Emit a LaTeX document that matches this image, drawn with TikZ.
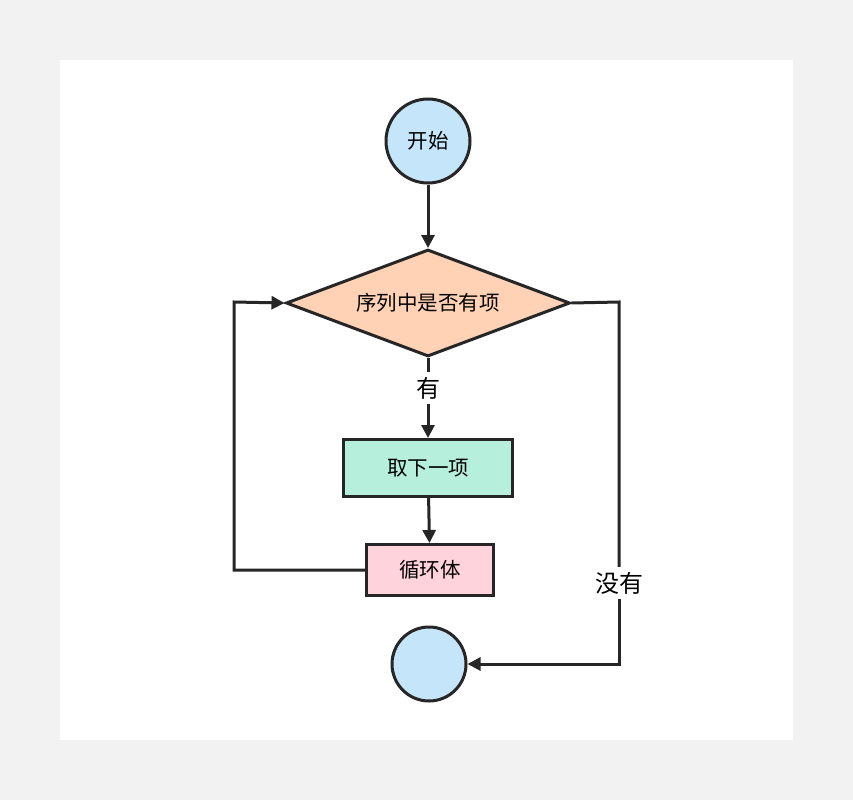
\documentclass[tikz,border=0pt]{standalone}
\usepackage{fontspec}
\setmainfont{Noto Sans CJK SC}
\usetikzlibrary{shapes.geometric,arrows.meta}
\begin{document}
\begin{tikzpicture}[x=1pt,y=-1pt,
  line/.style={line width=3pt,draw=black!85},
  arr/.style={line,-{Triangle[length=13pt,width=13pt]}},
  circ/.style={circle,line,fill={rgb,255:red,197;green,230;blue,250}}]
\useasboundingbox (0,0) rectangle (853,800);
\fill[gray!10] (0,0) rectangle (853,800);
\fill[white] (60,60) rectangle (793,740);
\begin{scope}[every node/.append style={font=\fontsize{20.5}{22}\selectfont}]
\node[circ,minimum size=84pt,inner sep=0] (s) at (428,141) {开始};
\node[diamond,line,fill={rgb,255:red,255;green,210;blue,181},minimum width=284pt,minimum height=107pt,inner sep=0,aspect=2.65] (d) at (428,303) {序列中是否有项};
\node[rectangle,line,fill={rgb,255:red,182;green,240;blue,220},minimum width=169pt,minimum height=57pt] (b1) at (428,468) {取下一项};
\node[rectangle,line,fill={rgb,255:red,255;green,211;blue,219},minimum width=127pt,minimum height=51pt] (b2) at (430,570) {循环体};
\node[circ,minimum size=74pt,inner sep=0] (e) at (429,664) {};
\node[fill=white,inner sep=5pt,font=\fontsize{24}{26}\selectfont] (y) at (428,388) {有};
\node[fill=white,inner sep=5pt,font=\fontsize{24}{26}\selectfont] (n) at (619,583) {没有};
\end{scope}
\coordinate (c1) at (234,570);
\coordinate (c2) at (234,302);
\coordinate (c3) at (619,302);
\coordinate (c4) at (619,664);
\draw[arr] (s) -- (d.north);
\draw[line] (d.south) -- (y);
\draw[arr] (y) -- (b1);
\draw[arr] (b1) -- (b2);
\draw[arr] (b2.west) -- (c1) -- (c2) -- (d.west);
\draw[line] (d.east) -- (c3) -- (n);
\draw[arr] (n) -- (c4) -- (e.east);
\end{tikzpicture}
\end{document}
